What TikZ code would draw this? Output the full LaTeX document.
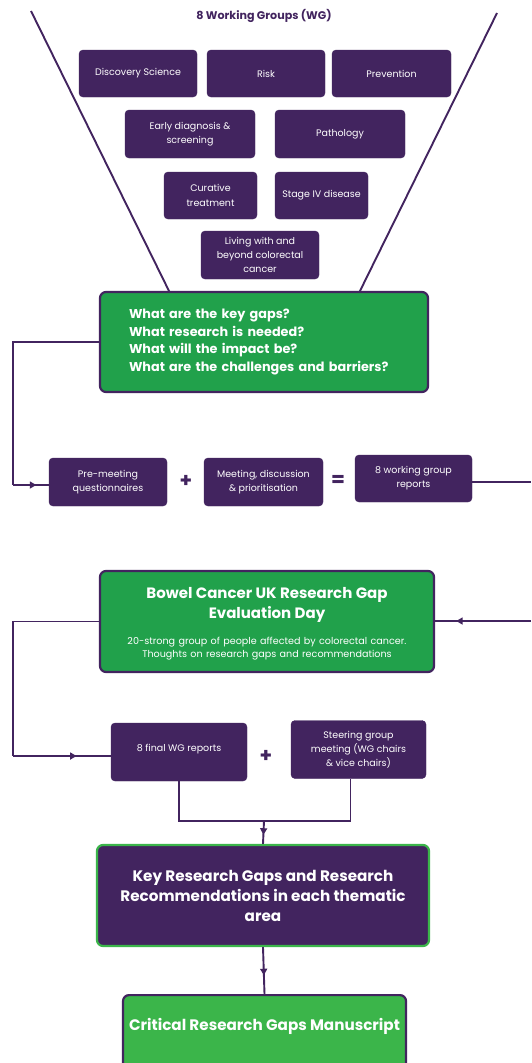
\documentclass[tikz,border=0pt]{standalone}
\usepackage{fontspec}
\setmainfont{Poppins}
\usetikzlibrary{arrows.meta,decorations.markings}
\definecolor{wgpurple}{HTML}{42245F}
\definecolor{wggreen}{HTML}{21A14B}
\definecolor{wglight}{HTML}{3BB54A}
\tikzset{
  wg/.style={draw=wgpurple, fill=wgpurple, rounded corners=4pt, text=white, align=center,
    font=\fontsize{9.5}{14.2}\selectfont, inner sep=0pt},
  gbox/.style={draw=wgpurple, line width=2.2pt, fill=wggreen, rounded corners=6pt, text=white, inner sep=0pt},
  conn/.style={draw=wgpurple, line width=1.9pt},
  midarrow/.style={postaction={decorate}, decoration={markings,
    mark=at position #1 with {\arrow{Triangle[length=6.5pt,width=7pt]}}}},
  midarrow/.default=0.5,
  sym/.style={text=wgpurple, font=\fontsize{20}{20}\selectfont\bfseries},
}
\begin{document}
\begin{tikzpicture}[x=1pt,y=-1pt]
\useasboundingbox (0,0) rectangle (531,1063);
\fill[white] (0,0) rectangle (531,1063);

% title
\node[text=wgpurple, font=\fontsize{11.1}{13}\selectfont\bfseries] (title) at (264,16) {8 Working Groups (WG)};

% funnel
\draw[conn] (31,11) -- (170,293);
\draw[conn] (497,13) -- (359,293);

% working groups
\node[wg, minimum width=118pt, minimum height=47pt] (disc) at (138,73.5) {Discovery Science};
\node[wg, minimum width=118pt, minimum height=47pt] (risk) at (266,73.5) {Risk};
\node[wg, minimum width=119pt, minimum height=47pt] (prev) at (391.5,73.5) {Prevention};
\node[wg, minimum width=130pt, minimum height=48pt] (early) at (190,134) {Early diagnosis \&\\screening};
\node[wg, minimum width=130pt, minimum height=48pt] (path) at (340,134) {Pathology};
\node[wg, minimum width=93pt, minimum height=47pt] (cur) at (210.5,195.5) {Curative\\treatment};
\node[wg, minimum width=93pt, minimum height=47pt] (stage) at (321.5,195.5) {Stage IV disease};
\node[wg, minimum width=118pt, minimum height=48pt] (live) at (260,255) {Living with and\\beyond colorectal\\cancer};

% green box 1
\node[gbox, minimum width=328pt, minimum height=100pt, text width=270pt, align=left,
  font=\fontsize{12.8}{17.4}\selectfont\bfseries] (g1) at (264,342)
  {What are the key gaps?\\What research is needed?\\What will the impact be?\\What are the challenges and barriers?};

% row of process
\node[wg, minimum width=118pt, minimum height=48pt] (pre) at (108,482) {Pre-meeting\\questionnaires};
\node[sym] (plus1) at (186,481) {+};
\node[wg, minimum width=119pt, minimum height=48pt] (meet) at (263.5,482) {Meeting, discussion\\\& prioritisation};
\node[sym] (eq) at (338,481) {=};
\node[wg, minimum width=117pt, minimum height=47pt] (rep) at (413.5,478.5) {8 working group\\reports};

\coordinate (c1) at (13,485);
\draw[conn] (g1.west) -| (c1);
\draw[conn, midarrow=0.65] (c1) -- (pre.west |- c1);
\coordinate (r1) at (531,482);
\draw[conn] (rep.east |- r1) -- (r1);

% green box 2
\node[gbox, minimum width=334pt, minimum height=101pt, text width=325pt, align=center] (g2) at (267,621.5)
  {\fontsize{15}{20}\selectfont\bfseries Bowel Cancer UK Research Gap\\Evaluation Day\par
   \vspace{13pt}\fontsize{9.6}{13}\selectfont\mdseries 20-strong group of people affected by colorectal cancer.\\Thoughts on research gaps and recommendations\par\vspace{-5pt}};

\coordinate (r2) at (531,621);
\draw[conn, midarrow=0.78] (r2) -- (g2.east |- r2);
\coordinate (c2) at (13,756);

\node[wg, minimum width=136pt, minimum height=58pt, text height=7pt, text depth=9pt] (fin) at (179,752) {8 final WG reports};
\node[sym] (plus2) at (266,756) {+};
\node[wg, minimum width=135pt, minimum height=58pt] (st) at (358.5,749.5) {Steering group\\meeting (WG chairs\\\& vice chairs)};

\draw[conn] (g2.west) -| (c2);
\draw[conn, midarrow=0.65] (c2) -- (fin.west |- c2);

% merge
\coordinate (m) at (264,821);
\draw[conn] (fin.south) |- (m) -| ([xshift=-8pt]st.south);

% key box
\node[draw=wglight, line width=2.2pt, fill=wgpurple, rounded corners=6pt, text=white, inner sep=0pt,
  minimum width=332pt, minimum height=101pt, align=center,
  font=\fontsize{15.2}{20}\selectfont\bfseries] (key) at (263,895.5)
  {Key Research Gaps and Research\\Recommendations in each thematic\\area};
\draw[conn, midarrow=0.6] (m) -- (key.north);

% critical box
\node[draw=wgpurple, line width=2.2pt, fill=wglight, rounded corners=6pt, text=white, anchor=north,
  minimum width=283pt, inner xsep=0pt, inner ysep=24pt, text height=11pt, text depth=60pt,
  font=\fontsize{15.2}{18}\selectfont\bfseries] (crit) at (264.5,994)
  {Critical Research Gaps Manuscript};
\draw[conn, midarrow=0.6] (key.south) -- (crit.north);
\end{tikzpicture}
\end{document}
